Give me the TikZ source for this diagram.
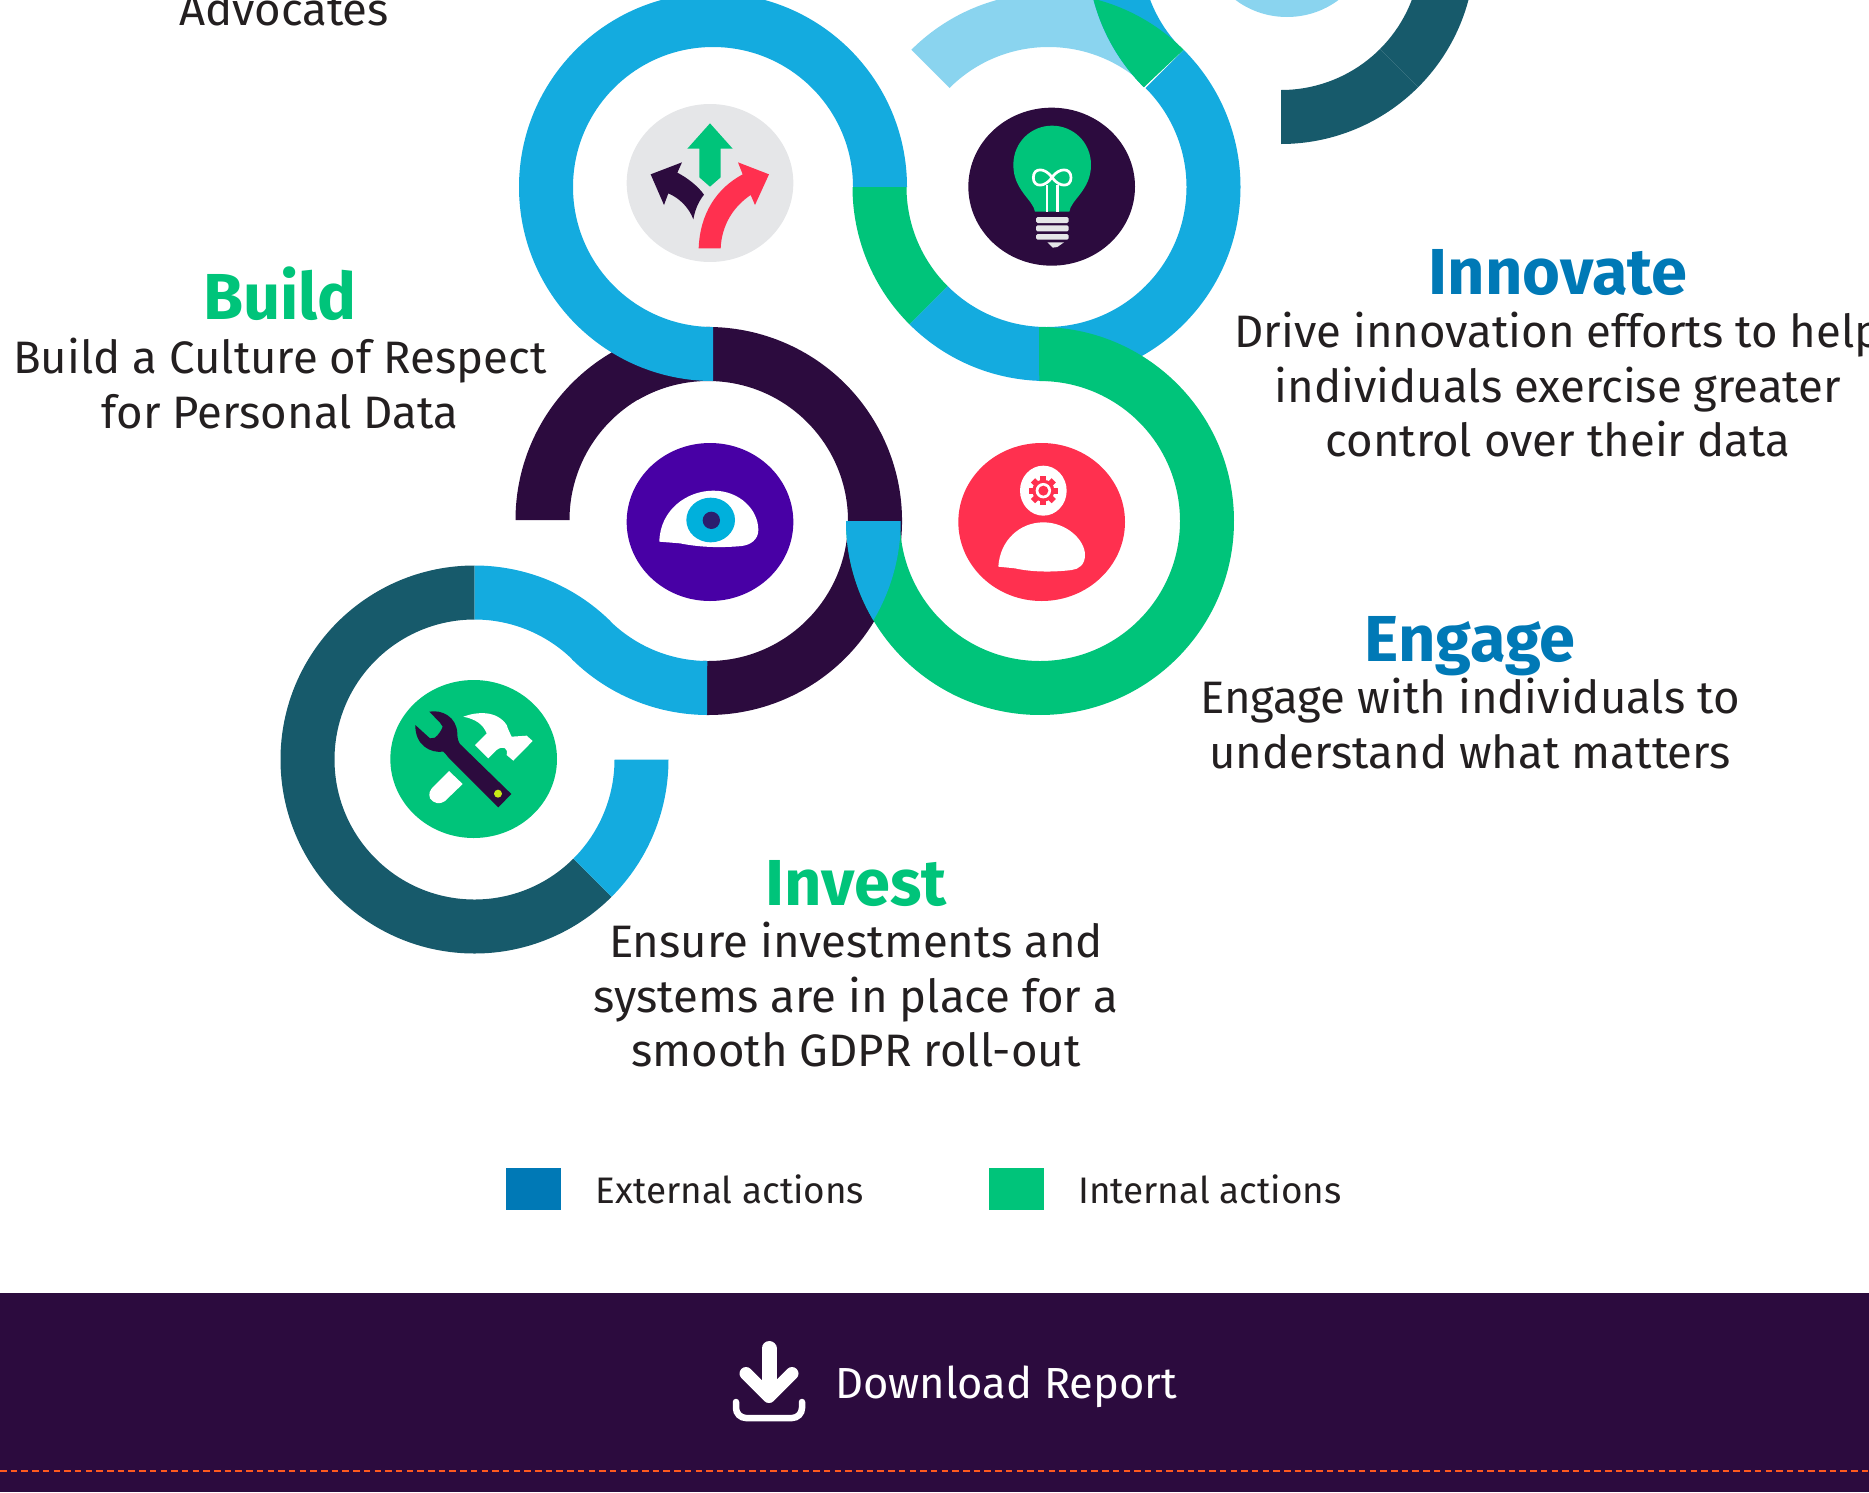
\documentclass[tikz,border=0pt]{standalone}
\usepackage{fontspec}
\usetikzlibrary{calc}
\setmainfont{Fira Sans}
\definecolor{cblue}{HTML}{14ABDF}
\definecolor{clight}{HTML}{8AD4EF}
\definecolor{cgreen}{HTML}{00C47A}
\definecolor{cdark}{HTML}{2C0B3E}
\definecolor{cteal}{HTML}{175A6B}
\definecolor{chead}{HTML}{0079B6}
\definecolor{ctext}{HTML}{231F20}
\definecolor{cred}{HTML}{FF304F}
\definecolor{cpurple}{HTML}{4800A5}
\definecolor{ciris}{HTML}{00B0DC}
\definecolor{cpupil}{HTML}{2B1E6E}
\definecolor{cgrey}{HTML}{E5E6E8}
\definecolor{cdash}{HTML}{FF5A1F}
\definecolor{clime}{HTML}{C8E816}
\newcommand{\seg}[4]{\fill[#4,shift={(#1)}] (#2:194pt) arc[start angle=#2,end angle=#3,radius=194pt] -- (#3:140pt) arc[start angle=#3,end angle=#2,radius=140pt] -- cycle;}
\tikzset{
  x=1pt,y=1pt,
  head/.style={anchor=base,inner sep=0pt,font=\fontsize{65}{65}\selectfont\bfseries},
  body/.style={anchor=base,inner sep=0pt,text=ctext,align=center,font=\fontsize{45.5}{54.3}\selectfont},
  legend/.style={anchor=base west,inner sep=0pt,text=ctext,font=\fontsize{36.9}{37}\selectfont},
  icon/.style={shift={(#1)},x=0.33333pt,y=-0.33333pt},
}
\begin{document}
\begin{tikzpicture}
\path[use as bounding box] (0,0) rectangle (1869,-1492);
\clip (0,0) rectangle (1869,-1492);
\coordinate (A) at (713,-187);
\coordinate (B) at (1046.5,-187);
\coordinate (Bl) at (1048.5,-187);
\coordinate (C) at (708,-521);
\coordinate (Cl) at (709.5,-520);
\coordinate (D) at (1040,-521);
\coordinate (E) at (474.5,-759.5);
\coordinate (H) at (1281,50);
% rings
\seg{C}{120}{-92}{cdark}
\seg{Cl}{180}{100}{cdark}
\seg{A}{0}{270}{cblue}
\seg{Bl}{135}{52}{clight}
\seg{B}{45}{-135}{cblue}
\seg{B}{180}{225}{cgreen}
\seg{D}{90.3}{-180}{cgreen}
\fill[cblue,shift={(0,1.5)}] ($(D)+(180:194pt)$) arc[start angle=180,end angle=210.8,radius=194pt] arc[start angle=-30.8,end angle=0,radius=194pt] -- cycle;
\seg{E}{90}{315}{cteal}
\seg{E}{-45}{0}{cblue}
\seg{E}{90}{45.5}{cblue}
\seg{C}{225.5}{269.7}{cblue}
\seg{H}{225}{140}{cblue}
\seg{H}{270}{315}{cteal}
\seg{H}{315}{390}{cteal}
\fill[cgreen] ($(H)+(225:194pt)$) arc[start angle=225,end angle=195,radius=194pt] -- ($(B)+(75.5:194pt)$) arc[start angle=75.5,end angle=45,radius=194pt] -- cycle;
\fill[clight] (1287,62) ellipse[x radius=83,y radius=79];
% decide icon
\begin{scope}[icon={600,-90}]
\fill[cgrey] (330,279) ellipse[x radius=250,y radius=237];
\fill[cgreen] (330,100) -- (398,176) -- (362,176) -- (362,262) -- (330,290) -- (298,262) -- (298,176) -- (262,176) -- cycle;
\fill[cdark] (246,217) -- (152,253) -- (192,345) -- (205,310) .. controls (240,325) and (268,355) .. (280,388) .. controls (285,360) and (295,335) .. (312,314) .. controls (295,290) and (265,265) .. (232,248) -- cycle;
\fill[cred] (296,475) -- (362,475) .. controls (365,405) and (400,350) .. (452,315) -- (465,345) -- (507,253) -- (414,217) -- (428,253) .. controls (350,295) and (300,370) .. (296,475) -- cycle;
\end{scope}
% bulb icon
\begin{scope}[icon={950,-90}]
\fill[cdark] (305,290) ellipse[x radius=250,y radius=237];
\fill[cgreen] (255,365) .. controls (250,330) and (190,300) .. (190,225) .. controls (190,155) and (245,107) .. (306,107) .. controls (368,107) and (423,155) .. (423,225) .. controls (423,300) and (362,330) .. (358,365) -- cycle;
\draw[white,line width=2.7pt] (291,365) -- (291,285) (322,365) -- (322,285);
\draw[white,line width=2.7pt] (306,262) .. controls (285,232) and (250,232) .. (250,263) .. controls (250,293) and (285,293) .. (306,262) .. controls (327,232) and (363,232) .. (363,263) .. controls (363,293) and (327,293) .. (306,262) -- cycle;
\fill[cgrey,rounded corners=1.5pt] (258,381) rectangle (356,399);
\fill[cgrey,rounded corners=1.5pt] (258,406) rectangle (356,424);
\fill[cgrey,rounded corners=1.5pt] (258,432) rectangle (356,449);
\fill[cgrey] (292,457) -- (342,457) -- (322,471) -- (308,473) -- cycle;
\end{scope}
% eye icon
\begin{scope}[icon={610,-430}]
\fill[cpurple] (300,276) ellipse[x radius=250,y radius=237];
\fill[white] (148,335) .. controls (150,240) and (230,182) .. (310,182) .. controls (390,182) and (445,240) .. (445,300) .. controls (445,330) and (420,345) .. (395,348) .. controls (320,355) and (260,350) .. (210,340) -- cycle;
\fill[ciris] (302,270) ellipse[x radius=73,y radius=67];
\fill[cpupil] (304,271) ellipse[x radius=26,y radius=26];
\end{scope}
% person icon
\begin{scope}[icon={950,-430}]
\fill[cred] (275,276) ellipse[x radius=250,y radius=237];
\fill[white] (280,182) ellipse[x radius=70,y radius=75];
\foreach \a in {0,45,...,315}{\fill[cred,shift={(280,182)},rotate=\a] (-9,-44) rectangle (9,0);}
\fill[cred] (280,182) circle[radius=11pt];
\fill[white] (280,182) circle[radius=7.7pt];
\fill[cred] (280,182) circle[radius=5pt];
\fill[white] (145,410) .. controls (150,330) and (210,277) .. (280,277) .. controls (350,277) and (405,330) .. (405,375) .. controls (405,405) and (385,418) .. (365,420) .. controls (300,428) and (240,425) .. (195,415) -- cycle;
\end{scope}
% tools icon
\begin{scope}[icon={380,-670}]
\fill[cgreen] (281,267) ellipse[x radius=250,y radius=237];
\fill[white] (250,140) .. controls (290,125) and (350,120) .. (380,165) .. controls (385,180) and (390,190) .. (395,200) -- (440,197) -- (458,213) -- (400,272) -- (380,255) .. controls (385,235) and (370,225) .. (350,240) -- (325,265) -- (285,225) -- (320,190) .. controls (310,165) and (290,148) .. (250,140) -- cycle;
\fill[white] (207,303) -- (248,342) -- (195,393) .. controls (180,405) and (160,400) .. (150,385) .. controls (145,370) and (150,360) .. (160,350) -- cycle;
\fill[cdark] (148,125) .. controls (185,118) and (230,140) .. (232,190) .. controls (232,205) and (235,215) .. (240,222) -- (394,372) -- (355,412) -- (205,262) .. controls (200,255) and (195,250) .. (190,245) .. controls (150,250) and (105,225) .. (106,165) -- (150,205) -- (165,203) .. controls (175,195) and (185,180) .. (188,170) -- (180,158) -- cycle;
\fill[clime] (354,371) ellipse[x radius=12,y radius=12];
\end{scope}
% texts
\node[body] (tadv) at (284,-25) {Advocates};
\node[head,text=cgreen] (tbuild) at (280,-319) {Build};
\node[body] (tbuildb) at (280,-428) {Build a Culture of Respect\\for Personal Data};
\node[head,text=chead] (tinno) at (1558,-294) {Innovate};
\node[body] (tinnob) at (1558,-456.5) {Drive innovation efforts to help\\individuals exercise greater\\control over their data};
\node[head,text=chead] (teng) at (1470,-661) {Engage};
\node[body] (tengb) at (1470,-768) {Engage with individuals to\\understand what matters};
\node[head,text=cgreen] (tinv) at (856,-905) {Invest};
\node[body] (tinvb) at (856,-1066.5) {Ensure investments and\\systems are in place for a\\smooth GDPR roll-out};
% legend
\fill[chead] (505.5,-1168) rectangle (561,-1210);
\fill[cgreen] (989,-1168) rectangle (1044,-1210);
\node[legend] (lext) at (595.5,-1203) {External actions};
\node[legend] (lint) at (1078,-1203) {Internal actions};
% footer
\fill[cdark] (0,-1293) rectangle (1869,-1492);
\draw[cdash,line width=2.8pt,dash pattern=on 6.5pt off 4.2pt] (0,-1471) -- (1869,-1471);
\draw[white,line width=15pt,line cap=round] (769,-1348.5) -- (769,-1393.5);
\draw[white,line width=13pt,line cap=round,line join=round] (746,-1373.5) -- (769,-1396.5) -- (792,-1373.5);
\draw[white,line width=6.5pt,line cap=round,rounded corners=10pt] (736,-1402) -- (736,-1418) -- (802,-1418) -- (802,-1402);
\node[anchor=base west,inner sep=0pt,text=white,font=\fontsize{43.5}{43.5}\selectfont] (tdl) at (835,-1398) {Download Report};
\end{tikzpicture}
\end{document}
